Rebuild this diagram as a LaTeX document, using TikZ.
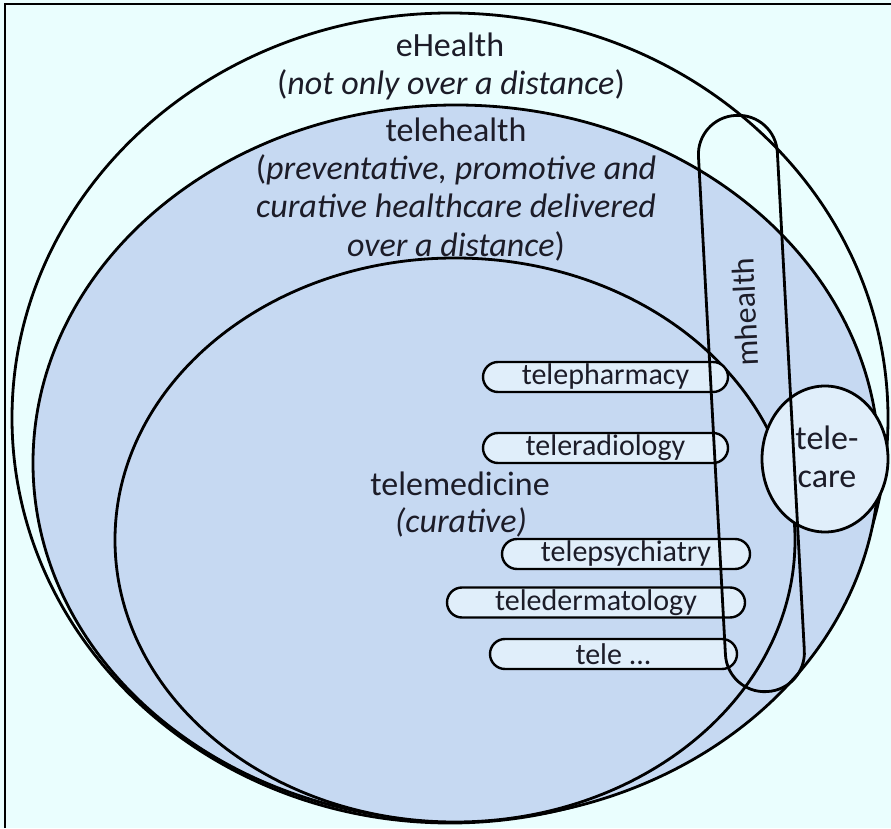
\documentclass[tikz,border=0pt]{standalone}
\usepackage{fontspec}
\setmainfont{Carlito}
\usetikzlibrary{shapes.geometric}
\definecolor{bgc}{RGB}{234,254,254}
\definecolor{blu}{RGB}{198,217,242}
\definecolor{pale}{RGB}{224,238,250}
\definecolor{ink}{RGB}{28,28,40}
\begin{document}
\begin{tikzpicture}[x=1pt,y=1pt,
  shapeline/.style={draw=black, line width=2.8pt},
  pill/.style={draw=black, line width=2.4pt, fill=pale, rounded corners=15pt, minimum height=30pt, inner sep=0pt, text=ink, font=\fontsize{30pt}{32pt}\selectfont},
  txt/.style={text=ink, anchor=base, inner sep=0pt, font=\fontsize{34pt}{38pt}\selectfont}]
\fill[bgc] (0,0) rectangle (891,828);
\useasboundingbox (0,0) rectangle (891,828);
\draw[line width=2.5pt] (5,0) -- (5,824) -- (891,824);
\node[ellipse, shapeline, fill=bgc, minimum width=876pt, minimum height=810pt, inner sep=0pt] (ehealth) at (450,410) {};
\node[ellipse, shapeline, fill=blu, minimum width=846pt, minimum height=716pt, inner sep=0pt] (telehealth) at (456,365) {};
\node[ellipse, shapeline, fill=blu, minimum width=680pt, minimum height=564pt, inner sep=0pt] (telemed) at (455,288) {};
\node[ellipse, shapeline, fill=pale, minimum width=126pt, minimum height=146pt, inner sep=0pt] (telecare) at (825,369) {};
\node[txt] (tc1) at (827,378) {tele-};
\node[txt] (tc2) at (827,341) {care};
\node[pill, minimum width=245pt] (pharm) at (605.5,451) {telepharmacy};
\node[pill, minimum width=245pt] (radio) at (605.5,380) {teleradiology};
\node[pill, minimum width=248pt] (psych) at (626,274) {telepsychiatry};
\node[pill, minimum width=298pt] (derm) at (596,225.5) {teledermatology};
\node[pill, minimum width=247pt] (other) at (613.5,174) {tele ...};
\node[shapeline, rounded corners=39pt, minimum width=79pt, minimum height=577pt, rotate=3.1] (mhealth) at (751.4,424.5) {};
\node[text=ink, rotate=92.5, inner sep=0pt, font=\fontsize{32pt}{36pt}\selectfont] (mlabel) at (745,516) {mhealth};
\node[txt] (eh1) at (450,771) {eHealth};
\node[txt] (eh2) at (451,733) {(\textit{not only over a distance})};
\node[txt] (th1) at (456,686) {telehealth};
\node[txt] (th2) at (456,648) {(\textit{preventative, promotive and}};
\node[txt] (th3) at (456,610) {\textit{curative healthcare delivered}};
\node[txt] (th4) at (456,571) {\textit{over a distance})};
\node[txt] (tm1) at (460,333) {telemedicine};
\node[txt] (tm2) at (461,296) {\textit{(curative)}};
\end{tikzpicture}
\end{document}
